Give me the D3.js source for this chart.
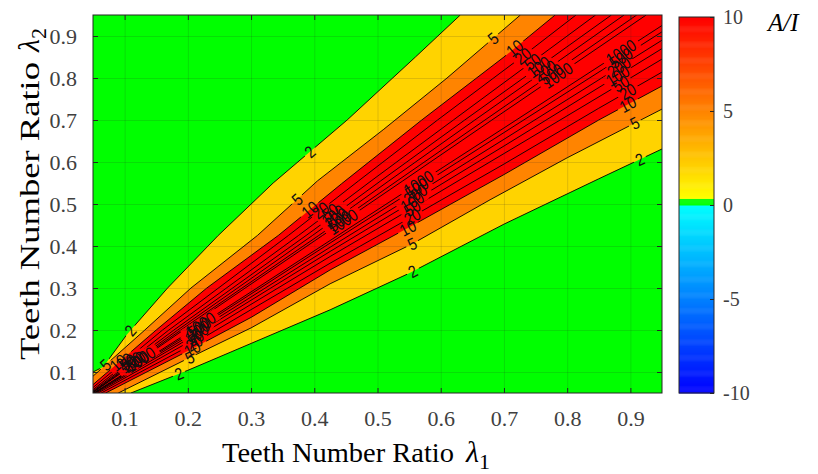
<!DOCTYPE html>
<html>
<head>
<meta charset="utf-8">
<script src="https://cdn.jsdelivr.net/npm/d3@7"></script>
<style>
  body { margin: 0; background: #fff; }
  svg text { font-family: "Liberation Serif", "Times New Roman", serif; }
</style>
</head>
<body>
<div id="chart"></div>
<script>
// contour levels of A/I
const levels = [2, 5, 10, 20, 50, 100, 200, 500, 1000];
const fillLevels = [2, 5, 10];
const xTicks = [0.1, 0.2, 0.3, 0.4, 0.5, 0.6, 0.7, 0.8, 0.9];
const yTicks = [0.1, 0.2, 0.3, 0.4, 0.5, 0.6, 0.7, 0.8, 0.9];
const cbTicks = [-10, -5, 0, 5, 10];

// contour lines below the diagonal, [lambda1, lambda2]
const lower2 = [[0.11, 0.05], [0.2, 0.104], [0.3, 0.168], [0.425, 0.248], [0.55, 0.335], [0.7, 0.452], [0.85, 0.56], [0.95, 0.631]];
const lower5 = [[0.09, 0.05], [0.2, 0.132], [0.3, 0.205], [0.425, 0.31], [0.555, 0.405], [0.678, 0.51], [0.8, 0.61], [0.95, 0.726]];
const lower10 = [[0.07, 0.05], [0.2, 0.15], [0.3, 0.23], [0.425, 0.343], [0.548, 0.443], [0.7, 0.57], [0.85, 0.7], [0.95, 0.781]];
const lower20 = [[0.063, 0.05], [0.2, 0.16], [0.425, 0.359], [0.555, 0.47], [0.7, 0.595], [0.85, 0.728], [0.95, 0.814]];
const lower50 = [[0.058, 0.05], [0.2, 0.17], [0.425, 0.375], [0.555, 0.49], [0.7, 0.62], [0.95, 0.845]];
const lower100 = [[0.055, 0.05], [0.2, 0.178], [0.425, 0.387], [0.555, 0.505], [0.7, 0.638], [0.95, 0.87]];
const lower200 = [[0.053, 0.05], [0.2, 0.184], [0.425, 0.397], [0.555, 0.518], [0.7, 0.654], [0.95, 0.89]];
const lower500 = [[0.052, 0.05], [0.2, 0.189], [0.425, 0.407], [0.555, 0.531], [0.7, 0.67], [0.95, 0.91]];
const lower1000 = [[0.051, 0.05], [0.2, 0.193], [0.425, 0.413], [0.555, 0.54], [0.7, 0.681], [0.95, 0.925]];

// contour lines above the diagonal, [lambda1, lambda2]
const upper2 = [[0.05, 0.1], [0.066, 0.112], [0.104, 0.19], [0.168, 0.3], [0.248, 0.425], [0.335, 0.55], [0.452, 0.7], [0.56, 0.85], [0.631, 0.95]];
const upper5 = [[0.05, 0.09], [0.132, 0.2], [0.205, 0.3], [0.31, 0.425], [0.405, 0.555], [0.51, 0.678], [0.61, 0.8], [0.726, 0.95]];
const upper10 = [[0.05, 0.07], [0.15, 0.2], [0.23, 0.3], [0.343, 0.425], [0.443, 0.548], [0.57, 0.7], [0.7, 0.85], [0.781, 0.95]];
const upper20 = [[0.05, 0.063], [0.16, 0.2], [0.359, 0.425], [0.47, 0.555], [0.595, 0.7], [0.728, 0.85], [0.814, 0.95]];
const upper50 = [[0.05, 0.058], [0.17, 0.2], [0.375, 0.425], [0.49, 0.555], [0.62, 0.7], [0.845, 0.95]];
const upper100 = [[0.05, 0.055], [0.178, 0.2], [0.387, 0.425], [0.505, 0.555], [0.638, 0.7], [0.87, 0.95]];
const upper200 = [[0.05, 0.053], [0.184, 0.2], [0.397, 0.425], [0.518, 0.555], [0.654, 0.7], [0.89, 0.95]];
const upper500 = [[0.05, 0.052], [0.189, 0.2], [0.407, 0.425], [0.531, 0.555], [0.67, 0.7], [0.91, 0.95]];
const upper1000 = [[0.05, 0.051], [0.193, 0.2], [0.413, 0.425], [0.54, 0.555], [0.681, 0.7], [0.925, 0.95]];

// where clabel put the numbers: [level, side, lambda1]
const labelSpots = [
  [2, "lo", 0.186], [5, "lo", 0.203], [10, "lo", 0.207], [20, "lo", 0.21], [50, "lo", 0.212], [100, "lo", 0.214], [200, "lo", 0.216], [500, "lo", 0.218], [1000, "lo", 0.22],
  [2, "lo", 0.556], [5, "lo", 0.555], [10, "lo", 0.548], [20, "lo", 0.555], [50, "lo", 0.555], [100, "lo", 0.555], [200, "lo", 0.56], [500, "lo", 0.562], [1000, "lo", 0.565],
  [2, "lo", 0.915], [5, "lo", 0.907], [10, "lo", 0.896], [20, "lo", 0.896], [50, "lo", 0.885], [100, "lo", 0.88], [200, "lo", 0.882], [500, "lo", 0.885], [1000, "lo", 0.885],
  [2, "up", 0.109], [5, "up", 0.07], [10, "up", 0.09], [20, "up", 0.1], [50, "up", 0.105], [100, "up", 0.11], [200, "up", 0.115], [500, "up", 0.12], [1000, "up", 0.125],
  [2, "up", 0.393], [5, "up", 0.373], [10, "up", 0.393], [20, "up", 0.41], [50, "up", 0.425], [100, "up", 0.43], [200, "up", 0.435], [500, "up", 0.44], [1000, "up", 0.445],
  [5, "up", 0.683], [10, "up", 0.717], [20, "up", 0.73], [50, "up", 0.745], [100, "up", 0.755], [200, "up", 0.765], [500, "up", 0.775], [1000, "up", 0.785]
];

const lowerLines = [lower2, lower5, lower10, lower20, lower50, lower100, lower200, lower500, lower1000];
const upperLines = [upper2, upper5, upper10, upper20, upper50, upper100, upper200, upper500, upper1000];

const width = 818;
const height = 474;
const plot = {left: 93, right: 662, top: 15, bottom: 393};
const cb = {left: 679, right: 714, top: 17, bottom: 393};
const axisColor = "#262626";

const x = d3.scaleLinear().domain([0.05, 0.95]).range([plot.left, plot.right]);
const y = d3.scaleLinear().domain([0.05, 0.95]).range([plot.bottom, plot.top]);

// colormap: blue -> cyan below zero, a green slot at zero, yellow -> red above
const negColor = d3.scaleLinear().domain([-10, 0]).range(["#0000ff", "#00ffff"]);
const posColor = d3.scaleLinear().domain([0.35, 10]).range(["#ffff00", "#ff0000"]).clamp(true);
const zeroColor = "#00ff00";
function cmap(v) {
    if (v < 0) return negColor(v);
    if (v < 0.35) return zeroColor;
    return posColor(v);
}

const svg = d3.select("#chart").append("svg")
    .attr("width", width)
    .attr("height", height);

const defs = svg.append("defs");
defs.append("clipPath").attr("id", "plotClip")
    .append("rect")
    .attr("x", plot.left).attr("y", plot.top)
    .attr("width", plot.right - plot.left).attr("height", plot.bottom - plot.top);

const line = d3.line()
    .x(d => x(d[0]))
    .y(d => y(d[1]));

const area = svg.append("g").attr("clip-path", "url(#plotClip)");

/* filled bands */
area.append("rect")
    .attr("x", plot.left).attr("y", plot.top)
    .attr("width", plot.right - plot.left).attr("height", plot.bottom - plot.top)
    .attr("fill", zeroColor);

fillLevels.forEach(L => {
    const i = levels.indexOf(L);
    const pts = [[0.05, 0.05]].concat(upperLines[i], [[0.95, 0.95]], lowerLines[i].slice().reverse());
    area.append("path")
        .attr("d", line(pts) + "Z")
        .attr("fill", cmap(L));
});

/* label positions, used both for the text and for the gaps in the lines */
function pointAt(pts, lx) {
    for (let k = 0; k < pts.length - 1; k++) {
        const a = pts[k], b = pts[k + 1];
        if (lx >= a[0] && lx <= b[0]) {
            const t = (lx - a[0]) / (b[0] - a[0]);
            const px = x(lx), py = y(a[1] + t * (b[1] - a[1]));
            const ang = Math.atan2(y(b[1]) - y(a[1]), x(b[0]) - x(a[0])) * 180 / Math.PI;
            return [px, py, ang];
        }
    }
    return null;
}

const labelFont = 17;
const labels = labelSpots.map(([L, side, lx]) => {
    const i = levels.indexOf(L);
    const pts = side === "lo" ? lowerLines[i] : upperLines[i];
    const p = pointAt(pts, lx);
    return {text: String(L), px: p[0], py: p[1], ang: p[2]};
});

const mask = defs.append("mask").attr("id", "labelGaps")
    .attr("maskUnits", "userSpaceOnUse")
    .attr("x", 0).attr("y", 0).attr("width", width).attr("height", height);
mask.append("rect").attr("width", width).attr("height", height).attr("fill", "#fff");
mask.selectAll("rect.gap")
    .data(labels).enter()
    .append("rect")
    .attr("class", "gap")
    .attr("x", d => -d.text.length * labelFont * 0.27 - 2)
    .attr("y", -labelFont * 0.35)
    .attr("width", d => d.text.length * labelFont * 0.54 + 4)
    .attr("height", labelFont * 0.7)
    .attr("fill", "#000")
    .attr("transform", d => `translate(${d.px},${d.py}) rotate(${d.ang})`);

/* contour lines */
area.append("g")
    .attr("mask", "url(#labelGaps)")
    .selectAll("path")
    .data(lowerLines.concat(upperLines)).enter()
    .append("path")
    .attr("d", d => line(d))
    .attr("fill", "none")
    .attr("stroke", "#000")
    .attr("stroke-width", 0.9);

area.append("g")
    .selectAll("text")
    .data(labels).enter()
    .append("text")
    .attr("transform", d => `translate(${d.px},${d.py}) rotate(${d.ang}) scale(0.85,1)`)
    .attr("text-anchor", "middle")
    .attr("dy", "0.35em")
    .style("font-family", "'Liberation Sans', Arial, sans-serif")
    .style("font-size", labelFont + "px")
    .attr("fill", "#111")
    .text(d => d.text);

/* grid */
svg.append("g")
    .attr("transform", `translate(0,${plot.bottom})`)
    .call(d3.axisBottom(x).tickValues(xTicks).tickSize(-(plot.bottom - plot.top)).tickFormat(""))
    .call(g => g.select(".domain").remove())
    .call(g => g.selectAll("line").attr("stroke", axisColor).attr("stroke-opacity", 0.15));
svg.append("g")
    .attr("transform", `translate(${plot.left},0)`)
    .call(d3.axisLeft(y).tickValues(yTicks).tickSize(-(plot.right - plot.left)).tickFormat(""))
    .call(g => g.select(".domain").remove())
    .call(g => g.selectAll("line").attr("stroke", axisColor).attr("stroke-opacity", 0.15));

/* axes with inward ticks */
const tickLen = 5;
const xAxis = svg.append("g")
    .attr("transform", `translate(0,${plot.bottom})`)
    .call(d3.axisBottom(x).tickValues(xTicks).tickSizeInner(-tickLen).tickSizeOuter(0).tickPadding(17).tickFormat(d3.format(".1f")));
svg.append("g")
    .attr("transform", `translate(0,${plot.top})`)
    .call(d3.axisTop(x).tickValues(xTicks).tickSizeInner(-tickLen).tickSizeOuter(0).tickFormat(""));
const yAxis = svg.append("g")
    .attr("transform", `translate(${plot.left},0)`)
    .call(d3.axisLeft(y).tickValues(yTicks).tickSizeInner(-tickLen).tickSizeOuter(0).tickPadding(16).tickFormat(d3.format(".1f")));
svg.append("g")
    .attr("transform", `translate(${plot.right},0)`)
    .call(d3.axisRight(y).tickValues(yTicks).tickSizeInner(-tickLen).tickSizeOuter(0).tickFormat(""));

svg.selectAll(".domain").remove();
svg.selectAll(".tick line").filter(function() { return +d3.select(this).attr("stroke-opacity") !== 0.15; })
    .attr("stroke", axisColor);
[xAxis, yAxis].forEach(g => g.selectAll("text")
    .attr("fill", "#404040")
    .style("font-family", "'Liberation Serif', 'Times New Roman', serif")
    .style("font-size", "22px"));

svg.append("rect")
    .attr("x", plot.left).attr("y", plot.top)
    .attr("width", plot.right - plot.left).attr("height", plot.bottom - plot.top)
    .attr("fill", "none")
    .attr("stroke", axisColor)
    .attr("stroke-width", 1);

/* axis titles */
const xTitle = svg.append("text")
    .attr("x", 222)
    .attr("y", 462)
    .attr("fill", "#000")
    .style("font-size", "27px");
xTitle.append("tspan").attr("textLength", 232).attr("lengthAdjust", "spacingAndGlyphs").text("Teeth Number Ratio");
xTitle.append("tspan").attr("dx", 12).style("font-style", "italic").style("font-size", "30px").text("\u03bb");
xTitle.append("tspan").attr("dy", 7).style("font-size", "22px").text("1");

const yTitle = svg.append("text")
    .attr("transform", "translate(39,360) rotate(-90)")
    .attr("fill", "#000")
    .style("font-size", "27px");
yTitle.append("tspan").attr("textLength", 298).attr("lengthAdjust", "spacingAndGlyphs").text("Teeth Number Ratio");
yTitle.append("tspan").attr("dx", 10).style("font-style", "italic").style("font-size", "30px").text("\u03bb");
yTitle.append("tspan").attr("dy", 7).style("font-size", "22px").text("2");

/* colorbar */
const cy = d3.scaleLinear().domain([-10, 10]).range([cb.bottom, cb.top]);
const steps = d3.range(-10, 10, 0.05);
svg.append("g")
    .selectAll("rect")
    .data(steps).enter()
    .append("rect")
    .attr("x", cb.left)
    .attr("y", d => cy(d + 0.05))
    .attr("width", cb.right - cb.left)
    .attr("height", d => cy(d) - cy(d + 0.05) + 0.5)
    .attr("fill", d => cmap(d + 0.025));

svg.append("rect")
    .attr("x", cb.left).attr("y", cb.top)
    .attr("width", cb.right - cb.left).attr("height", cb.bottom - cb.top)
    .attr("fill", "none")
    .attr("stroke", axisColor)
    .attr("stroke-width", 1);

const cbAxis = svg.append("g")
    .attr("transform", `translate(${cb.right},0)`)
    .call(d3.axisRight(cy).tickValues(cbTicks).tickSizeInner(-4).tickSizeOuter(0).tickPadding(9).tickFormat(d => String(d)));
cbAxis.select(".domain").remove();
cbAxis.selectAll("line").attr("stroke", axisColor);
cbAxis.selectAll("text")
    .attr("fill", "#404040")
    .style("font-family", "'Liberation Serif', 'Times New Roman', serif")
    .style("font-size", "20px");

svg.append("text")
    .attr("x", 768)
    .attr("y", 31)
    .attr("fill", "#000")
    .style("font-style", "italic")
    .style("font-size", "25px")
    .text("A/I");
</script>
</body>
</html>
